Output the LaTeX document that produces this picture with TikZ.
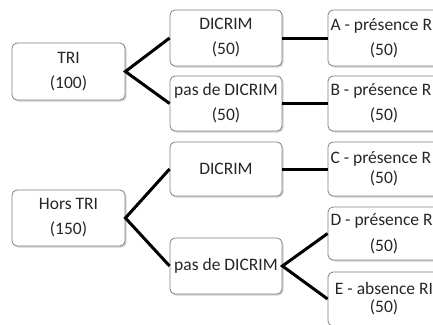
\documentclass[tikz,border=0pt]{standalone}
\usepackage{fontspec}
\setmainfont{Carlito}
\usetikzlibrary{shadows}
\tikzset{
  box/.style={draw=black!50, line width=0.8pt, rounded corners=5pt, fill=white,
    minimum width=112pt, minimum height=56pt, inner sep=0pt, align=center,
    font=\fontsize{17.5}{25}\selectfont, text=black!85,
    drop shadow={shadow xshift=1.5pt, shadow yshift=-1.5pt, opacity=0.3, fill=black!60}},
  link/.style={line width=3pt, black, line join=miter}
}
\begin{document}
\begin{tikzpicture}[x=1pt,y=-1pt]
\useasboundingbox (0,0) rectangle (433,324);
\clip (0,0) rectangle (433,324);
\node[box, minimum width=113pt, minimum height=57pt] (tri) at (68.5,71.5) {TRI\\(100)};
\node[box] (d1) at (226,38) {DICRIM\\(50)};
\node[box, minimum height=55pt] (p1) at (226,103.5) {pas de DICRIM\\(50)};
\node[box] (a) at (384,38) {\makebox[107pt][l]{A - présence R}\\(50)};
\node[box, minimum height=55pt] (b) at (384,103.5) {\makebox[107pt][l]{B - présence R}\\(50)};
\node[box, minimum width=113pt] (hors) at (68.5,218) {Hors TRI\\(150)};
\node[box, minimum height=54pt] (d2) at (226,169) {DICRIM};
\node[box] (p2) at (226,266) {pas de DICRIM};
\node[box, minimum height=54pt, font=\fontsize{17.5}{20}\selectfont] (c) at (384,169) {\makebox[107pt][l]{C - présence R}\\(50)};
\node[box, minimum height=53pt, font=\fontsize{17.5}{26}\selectfont] (d) at (384,233.5) {\makebox[107pt][l]{D - présence R}\\(50)};
\node[box, minimum height=54pt, font=\fontsize{17.5}{18}\selectfont] (e) at (384,299) {E - absence RI\\(50)};
\draw[link] (d1.west) -- (tri.east) -- (p1.west);
\draw[link] (d1.east) -- (a.west);
\draw[link] (p1.east) -- (b.west);
\draw[link] (d2.west) -- (hors.east) -- (p2.west);
\draw[link] (d2.east) -- (c.west);
\draw[link] (d.west) -- (p2.east) -- (e.west);
\end{tikzpicture}
\end{document}
